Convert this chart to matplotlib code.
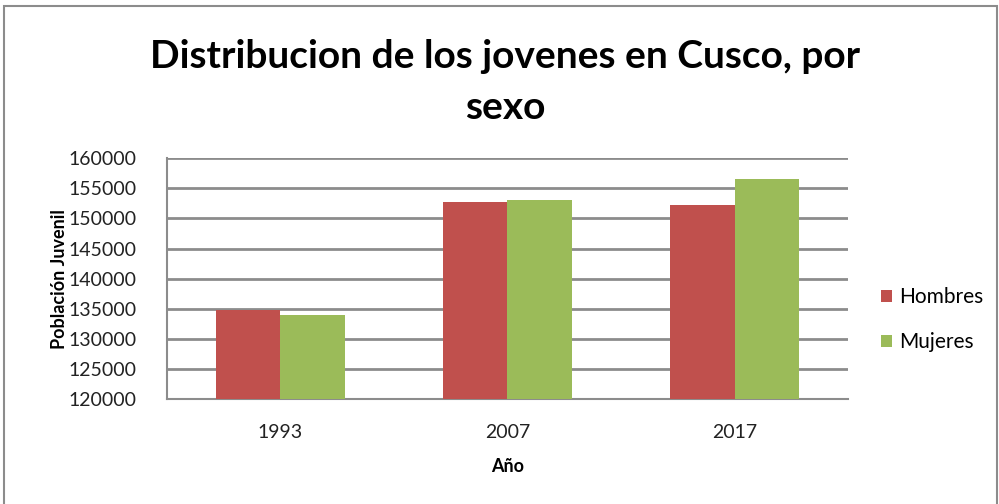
import numpy as np
import matplotlib
matplotlib.use("Agg")
from matplotlib import pyplot as plt
from matplotlib.patches import Rectangle

plt.rcParams["font.family"] = ["Lato", "DejaVu Sans"]

years = ["1993", "2007", "2017"]
hombres = [134800, 152700, 152300]
mujeres = [133900, 153000, 156600]

fig = plt.figure(figsize=(9.99, 5.04), dpi=100)
ax = fig.add_axes([0.167, 0.208, 0.682, 0.478])

x = np.arange(len(years))
w = 0.283
ax.bar(x - w / 2, hombres, w, color="#C0504D", label="Hombres", zorder=3)
ax.bar(x + w / 2, mujeres, w, color="#9BBB59", label="Mujeres", zorder=3)

ax.set_ylim(120000, 160000)
ax.set_yticks(np.arange(120000, 160001, 5000))
ax.set_xlim(-0.5, 2.5)
ax.set_xticks(x)
ax.set_xticklabels(years)
ax.grid(axis="y", color="#8c8c8c", linewidth=2, zorder=0)
for s in ["top", "right"]:
    ax.spines[s].set_visible(False)
for s in ["left", "bottom"]:
    ax.spines[s].set_color("#8c8c8c")
    ax.spines[s].set_linewidth(1.5)
ax.tick_params(axis="both", length=0, labelsize=14, colors="#222222")
ax.tick_params(axis="y", pad=22)
ax.tick_params(axis="x", pad=18)

ax.set_xlabel("Año", fontsize=13, fontweight="bold", labelpad=12)
ax.set_ylabel("Población Juvenil", fontsize=13, fontweight="bold", labelpad=0)

fig.text(0.506, 0.887, "Distribucion de los jovenes en Cusco, por", ha="center",
         va="center", fontsize=28, fontweight="bold")
fig.text(0.506, 0.787, "sexo", ha="center", va="center", fontsize=28, fontweight="bold")

ax.legend(loc="center left", bbox_to_anchor=(1.02, 0.33), frameon=False, fontsize=15,
          handlelength=0.55, handleheight=0.55, handletextpad=0.35, labelspacing=1.2)

# marco exterior del grafico
fig.patches.append(Rectangle((0.004, -0.1), 0.994, 1.088, transform=fig.transFigure,
                             fill=False, edgecolor="#8c8c8c", linewidth=1.5))

fig.savefig("out.png", dpi=100)
